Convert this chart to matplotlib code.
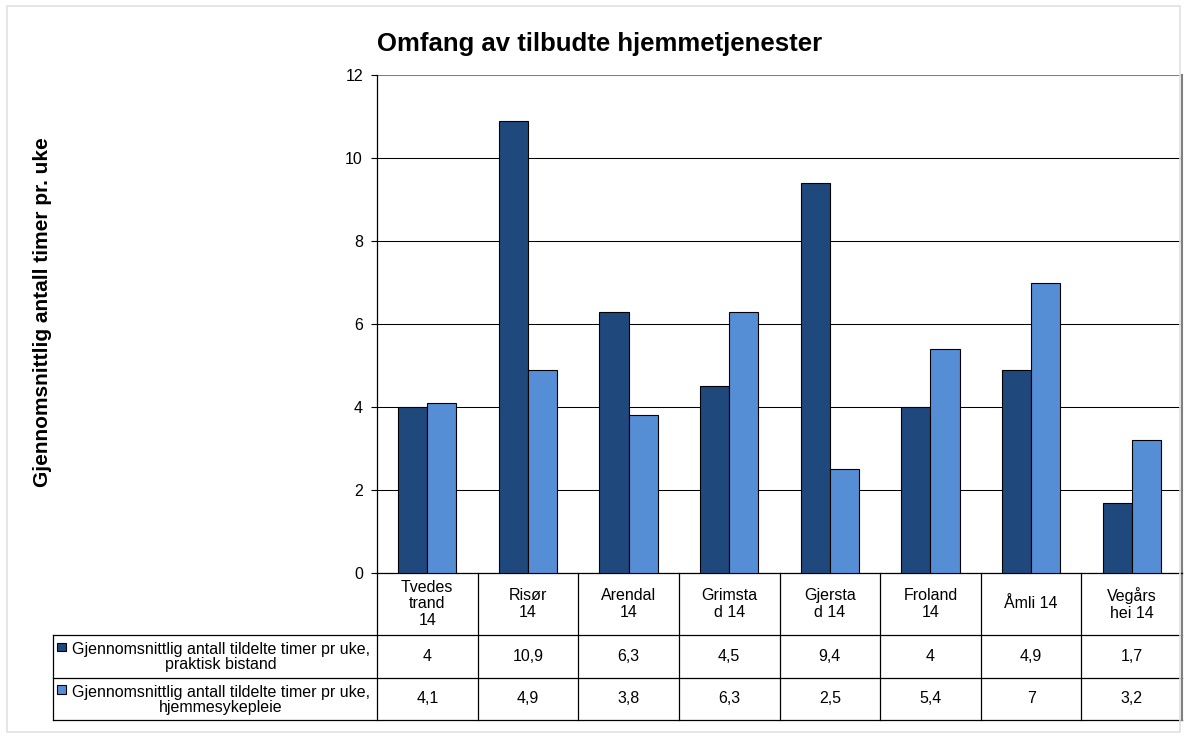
import matplotlib
matplotlib.use("Agg")
import matplotlib.pyplot as plt
from matplotlib.transforms import blended_transform_factory
from matplotlib.patches import Rectangle
import numpy as np

plt.rcParams['font.family'] = ['Liberation Sans', 'DejaVu Sans']

categories = ["Tvedes\ntrand\n14", "Risør\n14", "Arendal\n14", "Grimsta\nd 14",
              "Gjersta\nd 14", "Froland\n14", "Åmli 14", "Vegårs\nhei 14"]
series_names = ["Gjennomsnittlig antall tildelte timer pr uke,\npraktisk bistand",
                "Gjennomsnittlig antall tildelte timer pr uke,\nhjemmesykepleie"]
praktisk = [4, 10.9, 6.3, 4.5, 9.4, 4, 4.9, 1.7]
hjemme = [4.1, 4.9, 3.8, 6.3, 2.5, 5.4, 7, 3.2]
colors = ["#1F497D", "#558ED5"]
title = "Omfang av tilbudte hjemmetjenester"
ylabel = "Gjennomsnittlig antall timer pr. uke"

W, H = 1186, 738
fig = plt.figure(figsize=(W / 100, H / 100), dpi=100)
left, right, top, bottom = 377, 1182, 75.5, 573
ax = fig.add_axes([left / W, 1 - bottom / H, (right - left) / W, (bottom - top) / H])

FS = 11.5
x = np.arange(len(categories))
bw = 0.29
ax.bar(x - bw / 2, praktisk, bw, color=colors[0], edgecolor="black", linewidth=0.8, zorder=3)
ax.bar(x + bw / 2, hjemme, bw, color=colors[1], edgecolor="black", linewidth=0.8, zorder=3)

ax.set_xlim(-0.5, len(categories) - 0.5)
ax.set_ylim(0, 12)
ax.set_yticks(range(0, 11, 2))
ax.set_yticks([12], minor=False) if False else None
ax.set_yticks(range(0, 13, 2))
ax.yaxis.grid(True, color="black", linewidth=0.75)
gl = ax.get_ygridlines()
gl[-1].set_color("#808080")
gl[-1].set_linewidth(1.5)
ax.set_axisbelow(True)
ax.tick_params(axis="y", direction="out", length=4.3, width=0.8, labelsize=FS, pad=5.8)
ax.set_xticks([])
ax.spines["top"].set_visible(False)
ax.spines["right"].set_color("#808080")
ax.spines["right"].set_linewidth(1.5)
ax.spines["left"].set_linewidth(0.9)
ax.spines["bottom"].set_linewidth(0.9)

# data table
tr = blended_transform_factory(ax.transData, ax.transAxes)
ph = bottom - top
def yax(py):
    return (bottom - py) / ph
y0, y1, y2, y3 = yax(573), yax(635), yax(677.7), yax(720)
xl = -0.5 + (53 - left) / (right - left) * len(categories)
xr = len(categories) - 0.5
lw = 0.9
kw = dict(transform=tr, color="black", linewidth=lw, clip_on=False)
for yy in (y1, y2, y3):
    ax.plot([xl, xr], [yy, yy], **kw)
for i in range(len(categories)):
    ax.plot([i - 0.5, i - 0.5], [y0, y3], **kw)
ax.plot([xr, xr], [y0, y3], transform=tr, color="#808080", linewidth=1.5, clip_on=False)
ax.plot([xl, xl], [y1, y3], **kw)

for i, c in enumerate(categories):
    ax.text(i, (y0 + y1) / 2, c, transform=tr, ha="center", va="center",
            fontsize=FS, linespacing=1.15)
    ax.text(i, (y1 + y2) / 2, str(praktisk[i]).replace(".", ","), transform=tr,
            ha="center", va="center", fontsize=FS)
    ax.text(i, (y2 + y3) / 2, str(hjemme[i]).replace(".", ","), transform=tr,
            ha="center", va="center", fontsize=FS)

# legend cells
row_bounds = [(635, 677.7), (677.7, 720)]
for j, (rt, rb) in enumerate(row_bounds):
    ky = rt + 7.5
    fig.patches.append(Rectangle((57 / W, 1 - (ky + 8.5) / H), 9.5 / W, 8.5 / H,
                                 transform=fig.transFigure, facecolor=colors[j],
                                 edgecolor="black", linewidth=0.8))
    fig.text(221 / W, 1 - ((rt + rb) / 2 + 1) / H, series_names[j], ha="center",
             va="center", fontsize=FS, linespacing=1.0, multialignment="center")

fig.text(600 / W, 1 - 44 / H, title, ha="center", va="center", fontsize=18.5,
         fontweight="bold")
fig.text(42 / W, 1 - 312 / H, ylabel, ha="center", va="center", rotation=90,
         fontsize=15, fontweight="bold")

fig.patches.append(Rectangle((7 / W, 6 / H), (W - 13) / W, (H - 12) / H,
                             transform=fig.transFigure, fill=False,
                             edgecolor="#e0e0e0", linewidth=1.2))

fig.savefig("out.png", dpi=100)
